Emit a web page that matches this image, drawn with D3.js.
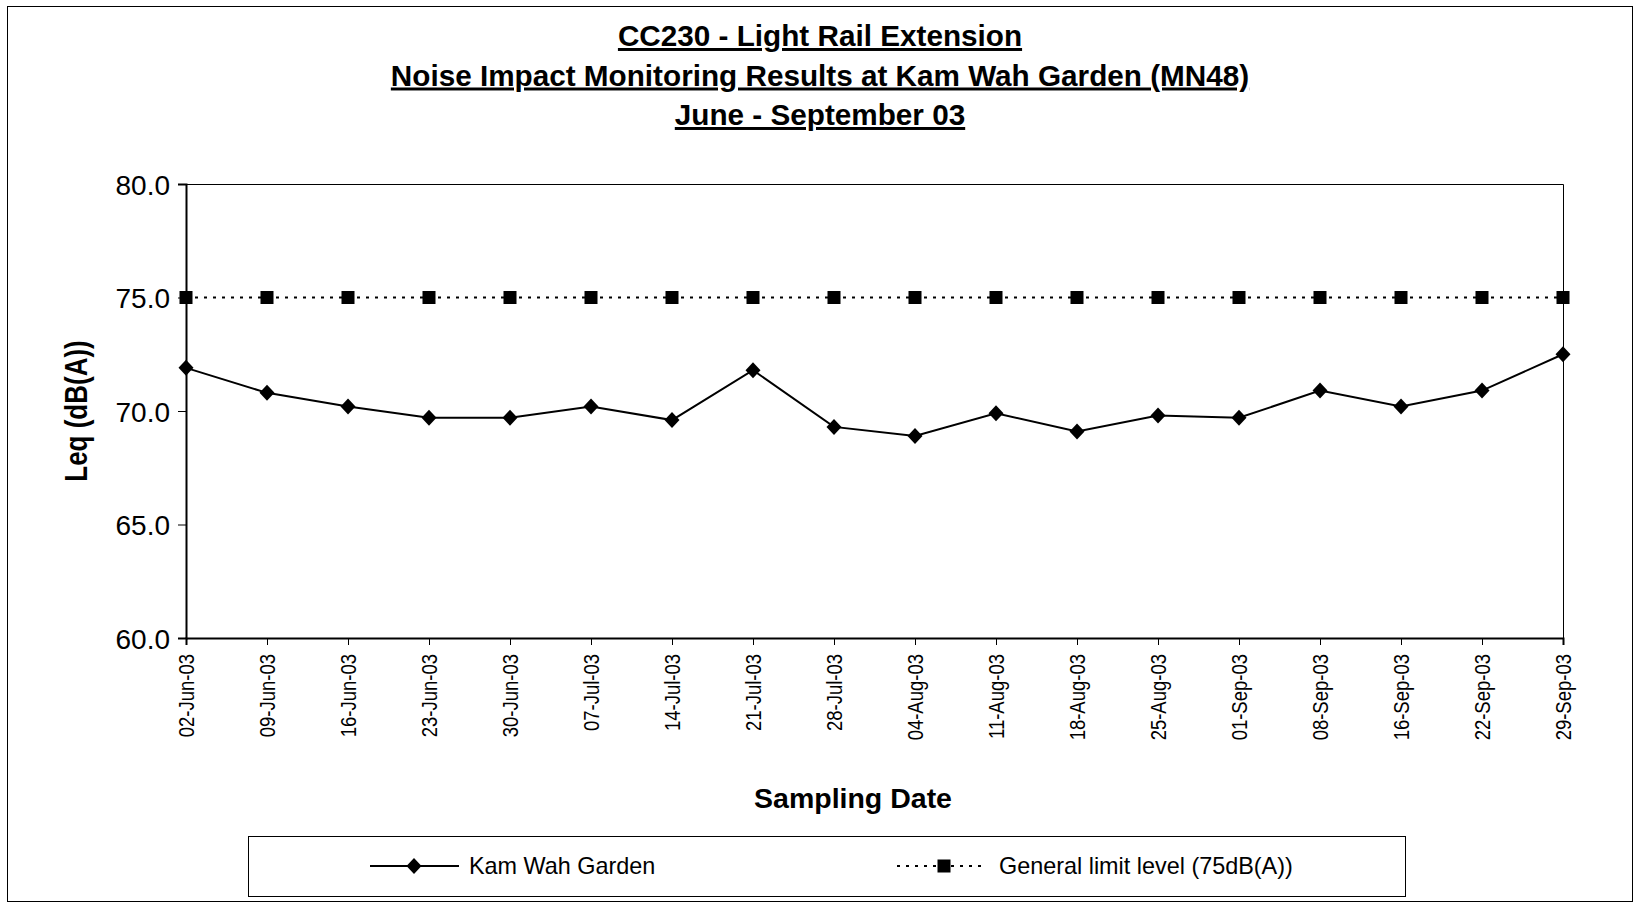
<!DOCTYPE html>
<html>
<head>
<meta charset="utf-8">
<script src="https://cdn.jsdelivr.net/npm/d3@7"></script>
<style>
  body { margin: 0; background: #fff; }
  text { font-family: "Liberation Sans", Arial, sans-serif; fill: #000; }
</style>
</head>
<body>
<div id="chart"></div>
<script>
var dates = ["02-Jun-03", "09-Jun-03", "16-Jun-03", "23-Jun-03", "30-Jun-03", "07-Jul-03",
  "14-Jul-03", "21-Jul-03", "28-Jul-03", "04-Aug-03", "11-Aug-03", "18-Aug-03",
  "25-Aug-03", "01-Sep-03", "08-Sep-03", "16-Sep-03", "22-Sep-03", "29-Sep-03"];
var kamWah = [71.9, 70.8, 70.2, 69.7, 69.7, 70.2, 69.6, 71.8, 69.3, 68.9, 69.9, 69.1,
  69.8, 69.7, 70.9, 70.2, 70.9, 72.5];
var limit = [75, 75, 75, 75, 75, 75, 75, 75, 75, 75, 75, 75, 75, 75, 75, 75, 75, 75];
var yTicks = [60, 65, 70, 75, 80];
var titles = ["CC230 - Light Rail Extension",
  "Noise Impact Monitoring Results at Kam Wah Garden (MN48)",
  "June - September 03"];
var seriesNames = ["Kam Wah Garden", "General limit level (75dB(A))"];

var W = 1635, H = 904;
var plot = {left: 186, right: 1563, top: 184, bottom: 638};

var svg = d3.select("#chart").append("svg")
  .attr("width", W)
  .attr("height", H);

// chart border
svg.append("rect")
  .attr("x", 7.5).attr("y", 6.5)
  .attr("width", 1625).attr("height", 895)
  .attr("fill", "none").attr("stroke", "#000").attr("stroke-width", 1);

var x = d3.scalePoint()
  .domain(dates)
  .range([plot.left, plot.right]);

var y = d3.scaleLinear()
  .domain([60, 80])
  .range([plot.bottom, plot.top]);

// titles
titles.forEach(function(t, i) {
  svg.append("text")
    .attr("x", 820)
    .attr("y", 46 + i * 39.5)
    .attr("text-anchor", "middle")
    .style("font-size", "29.7px")
    .style("font-weight", "bold")
    .style("text-decoration", "underline")
    .text(t);
});

// plot frame (top + right thin)
svg.append("path")
  .attr("d", "M" + plot.left + "," + (plot.top + 0.5) + "H" + (plot.right + 0.5) + "V" + plot.bottom)
  .attr("fill", "none").attr("stroke", "#000").attr("stroke-width", 1);

// axes
var yAxis = svg.append("g")
  .attr("transform", "translate(" + plot.left + ",0)")
  .call(d3.axisLeft(y).tickValues(yTicks).tickSize(8).tickPadding(8).tickFormat(d3.format(".1f")));
yAxis.select(".domain").attr("stroke-width", 2);
yAxis.selectAll("text").style("font-size", "28px").attr("dy", "0.36em");

var xAxis = svg.append("g")
  .attr("transform", "translate(0," + plot.bottom + ")")
  .call(d3.axisBottom(x).tickSize(7).tickPadding(0));
xAxis.select(".domain").attr("stroke-width", 2);
xAxis.selectAll("text")
  .style("font-size", "18.5px")
  .attr("text-anchor", "end")
  .attr("transform", "rotate(-90) scale(1,1.2)")
  .attr("x", -16)
  .attr("y", 0)
  .attr("dy", "0.35em");

// axis titles
svg.append("text")
  .attr("transform", "translate(76,411) rotate(-90) scale(1,1.2)")
  .attr("text-anchor", "middle")
  .attr("dy", "0.36em")
  .style("font-size", "26px")
  .style("font-weight", "bold")
  .text("Leq (dB(A))");

svg.append("text")
  .attr("x", 853)
  .attr("y", 808)
  .attr("text-anchor", "middle")
  .style("font-size", "28.5px")
  .style("font-weight", "bold")
  .text("Sampling Date");

// series
var line = d3.line()
  .x(function(d, i) { return x(dates[i]); })
  .y(function(d) { return y(d); });

svg.append("path")
  .datum(limit)
  .attr("d", line)
  .attr("fill", "none")
  .attr("stroke", "#000")
  .attr("stroke-width", 1.8)
  .attr("stroke-dasharray", "3,6");

svg.append("path")
  .datum(kamWah)
  .attr("d", line)
  .attr("fill", "none")
  .attr("stroke", "#000")
  .attr("stroke-width", 2);

function diamond(cx, cy) {
  return "M" + cx + "," + (cy - 8) + "L" + (cx + 7.5) + "," + cy + "L" + cx + "," + (cy + 8) + "L" + (cx - 7.5) + "," + cy + "Z";
}

svg.selectAll(".sq")
  .data(limit)
  .enter().append("rect")
  .attr("class", "sq")
  .attr("x", function(d, i) { return x(dates[i]) - 6.5; })
  .attr("y", function(d) { return y(d) - 6.5; })
  .attr("width", 13).attr("height", 13)
  .attr("fill", "#000");

svg.selectAll(".dm")
  .data(kamWah)
  .enter().append("path")
  .attr("class", "dm")
  .attr("d", function(d, i) { return diamond(x(dates[i]), y(d)); })
  .attr("fill", "#000");

// legend
svg.append("rect")
  .attr("x", 248.5).attr("y", 836.5)
  .attr("width", 1157).attr("height", 60)
  .attr("fill", "#fff").attr("stroke", "#000").attr("stroke-width", 1);

var ly = 866;
svg.append("line")
  .attr("x1", 370).attr("x2", 459).attr("y1", ly).attr("y2", ly)
  .attr("stroke", "#000").attr("stroke-width", 2);
svg.append("path").attr("d", diamond(414, ly)).attr("fill", "#000");
svg.append("text")
  .attr("x", 469).attr("y", ly).attr("dy", "0.35em")
  .style("font-size", "23.4px")
  .text(seriesNames[0]);

svg.append("line")
  .attr("x1", 897).attr("x2", 987).attr("y1", ly).attr("y2", ly)
  .attr("stroke", "#000").attr("stroke-width", 1.8)
  .attr("stroke-dasharray", "3,6");
svg.append("rect")
  .attr("x", 944 - 6.5).attr("y", ly - 6.5)
  .attr("width", 13).attr("height", 13)
  .attr("fill", "#000");
svg.append("text")
  .attr("x", 999).attr("y", ly).attr("dy", "0.35em")
  .style("font-size", "23.4px")
  .text(seriesNames[1]);
</script>
</body>
</html>
